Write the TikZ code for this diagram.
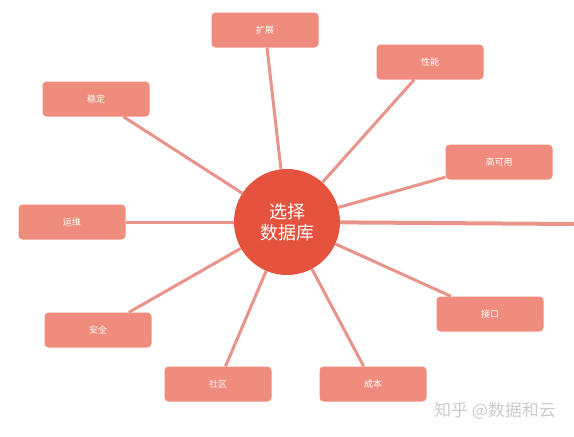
\documentclass[tikz,border=0pt]{standalone}
\usepackage{fontspec}
\setmainfont{Noto Sans CJK SC}
\begin{document}
\begin{tikzpicture}[x=1pt,y=-1pt,
  box/.style={fill=boxc, rounded corners=4pt, minimum width=107pt, minimum height=35pt, text=white, font=\fontsize{9}{10}\selectfont, inner sep=0pt},
  link/.style={draw=linec, line width=3pt},
  hub/.style={circle, fill=hubc, minimum size=106pt, text=white, align=center, font=\fontsize{18}{21}\selectfont, inner sep=0pt}]
\definecolor{boxc}{HTML}{F08C7D}
\definecolor{hubc}{HTML}{E5533F}
\definecolor{linec}{HTML}{E8948A}
\useasboundingbox (0,0) rectangle (574,437);
\fill[white] (0,0) rectangle (574,437);
\node[hub] (c) at (287,222) {选择\\数据库};
\node[box] (kz) at (265,30) {扩展};
\node[box] (xn) at (430,62) {性能};
\node[box] (wd) at (96,99) {稳定};
\node[box] (gk) at (499,162) {高可用};
\node[box] (yw) at (72,222) {运维};
\node[box] (jk) at (490,314) {接口};
\node[box] (aq) at (98,330) {安全};
\node[box] (sq) at (218,384) {社区};
\node[box] (cb) at (373,384) {成本};
\coordinate (edge) at (574,224);
\path[link] (kz) -- (c);
\path[link] (xn) -- (c);
\path[link] (wd) -- (c);
\path[link] (gk) -- (c);
\path[link] (yw) -- (c);
\path[link] (jk) -- (c);
\path[link] (aq) -- (c);
\path[link] (sq) -- (c);
\path[link] (cb) -- (c);
\path[draw=linec, line width=4pt] (c) -- (edge);
\node[text=gray!40, font=\fontsize{17}{19}\selectfont] (wm) at (495,411) {知乎 @数据和云};
\end{tikzpicture}
\end{document}
